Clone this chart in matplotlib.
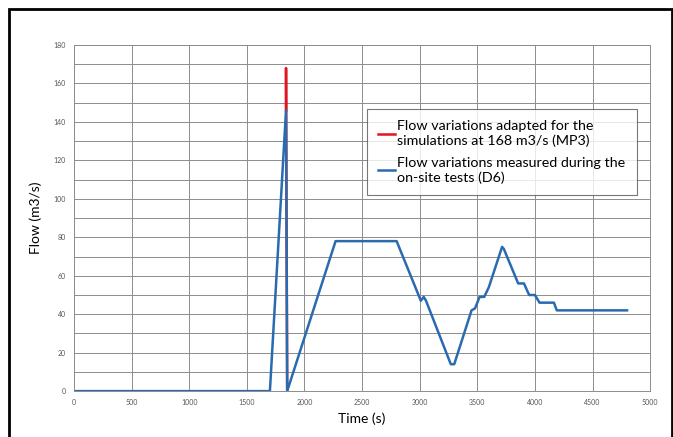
import numpy as np
import matplotlib.pyplot as plt
from matplotlib.patches import Rectangle

# measured flow (D6)
time_meas = [0, 1700, 1840, 1850, 2270, 2800, 3010, 3035, 3055, 3270, 3300, 3450,
             3480, 3520, 3560, 3600, 3715, 3730, 3855, 3905, 3950, 4000, 4040,
             4165, 4190, 4800]
flow_meas = [0, 0, 146, 0, 78, 78, 47, 49, 47, 14, 14, 42,
             43, 49, 49, 54, 75, 74, 56, 56, 50, 50, 46,
             46, 42, 42]

# adapted flow (MP3) - peak raised to 168
time_adapt = [1840, 1840, 1850]
flow_adapt = [146, 168, 0]

plt.rcParams['font.family'] = ['Lato', 'DejaVu Sans']

fig = plt.figure(figsize=(6.73, 4.37), dpi=100)
ax = fig.add_axes([0.110, 0.105, 0.856, 0.792])

ax.plot(time_adapt, flow_adapt, color='#e0151f', lw=1.8,
        label='Flow variations adapted for the\nsimulations at 168 m3/s (MP3)')
ax.plot(time_meas, flow_meas, color='#2a6bb0', lw=1.8,
        label='Flow variations measured during the\non-site tests (D6)')

ax.set_xlim(0, 5000)
ax.set_ylim(0, 180)
ax.set_xticks(np.arange(0, 5001, 500))
ax.set_yticks(np.arange(0, 181, 20))
ax.set_yticks(np.arange(0, 181, 10), minor=True)
ax.grid(True, which='both', color='#8c8c8c', lw=0.7)
ax.set_axisbelow(True)
ax.tick_params(which='both', length=0, labelsize=5, labelcolor='#555555', pad=6)
for s in ax.spines.values():
    s.set_color('#8c8c8c')
    s.set_linewidth(0.7)

ax.set_xlabel('Time (s)', fontsize=10, labelpad=4)
ax.set_ylabel('Flow (m3/s)', fontsize=10, labelpad=8)

leg = ax.legend(loc='upper right', bbox_to_anchor=(0.977, 0.815), fontsize=10.3,
                frameon=True, fancybox=False, handlelength=1.2, handletextpad=0.15,
                borderpad=0.8, labelspacing=0.7, borderaxespad=0)
leg.get_frame().set_edgecolor('#555555')
leg.get_frame().set_linewidth(0.8)

fig.patches.append(Rectangle((0.014, -0.01), 0.984, 0.99, transform=fig.transFigure,
                             fill=False, edgecolor='black', lw=2))

fig.savefig('out.png', dpi=100)
